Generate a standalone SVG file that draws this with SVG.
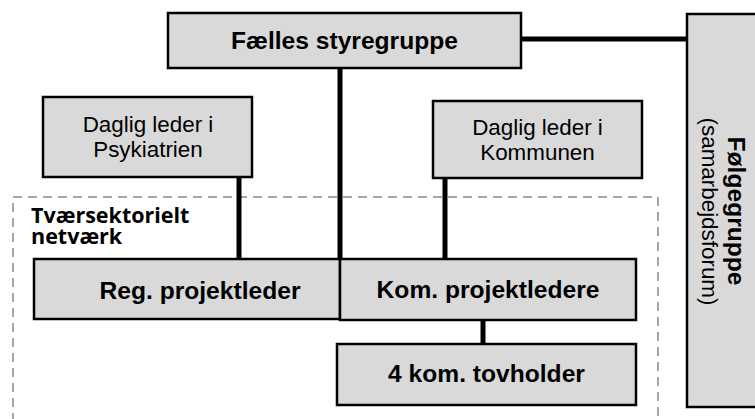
<svg xmlns="http://www.w3.org/2000/svg" width="755" height="419" viewBox="0 0 755 419">
<style>
.box{fill:#d9d9d9;stroke:#000;stroke-width:2.5}
.conn{stroke:#000;stroke-width:5;fill:none}
.t{font-family:"Liberation Sans",Arial,sans-serif;fill:#000;text-anchor:middle}
.b{font-weight:bold;font-size:24.6px}
.r{font-size:22.4px}
.net{font-family:"Open Sans","Liberation Sans",sans-serif;font-weight:bold;font-size:21.5px;fill:#000}
</style>
<rect x="0" y="0" width="755" height="419" fill="#fff"/>
<rect id="netvaerk" x="13" y="197" width="645" height="240" fill="none" stroke="#a6a6a6" stroke-width="2" stroke-dasharray="9,6"/>
<text class="net" x="31" y="223">Tværsektorielt<tspan x="31" y="244">netværk</tspan></text>
<g id="connectors">
<line class="conn" x1="521" y1="39" x2="688" y2="39"/>
<line class="conn" x1="340" y1="68" x2="340" y2="260"/>
<line class="conn" x1="239" y1="177" x2="239" y2="260"/>
<line class="conn" x1="445" y1="178" x2="445" y2="260"/>
<line class="conn" x1="483" y1="320" x2="483" y2="345"/>
</g>
<g id="faelles">
<rect class="box" x="168" y="13" width="353" height="55"/>
<text class="t b" x="344.5" y="49">Fælles styregruppe</text>
</g>
<g id="psyk">
<rect class="box" x="43" y="97" width="209" height="80"/>
<text class="t r" x="148" y="132">Daglig leder i</text>
<text class="t r" x="148" y="157">Psykiatrien</text>
</g>
<g id="kommunen">
<rect class="box" x="433" y="101" width="209" height="77"/>
<text class="t r" x="537.5" y="135">Daglig leder i</text>
<text class="t r" x="537.5" y="160">Kommunen</text>
</g>
<g id="reg">
<rect class="box" x="34" y="259" width="306" height="60"/>
<text class="t b" x="200" y="299">Reg. projektleder</text>
</g>
<g id="kom">
<rect class="box" x="340" y="259" width="296" height="61"/>
<text class="t b" x="488" y="298">Kom. projektledere</text>
</g>
<g id="tovholder">
<rect class="box" x="337" y="344" width="299" height="61"/>
<text class="t b" x="486.5" y="382">4 kom. tovholder</text>
</g>
<g id="folgegruppe">
<rect class="box" x="687" y="14" width="80" height="393"/>
<text class="t b" transform="translate(728,211) rotate(90)">Følgegruppe</text>
<text class="t r" transform="translate(702,211.5) rotate(90)">(samarbejdsforum)</text>
</g>
</svg>
